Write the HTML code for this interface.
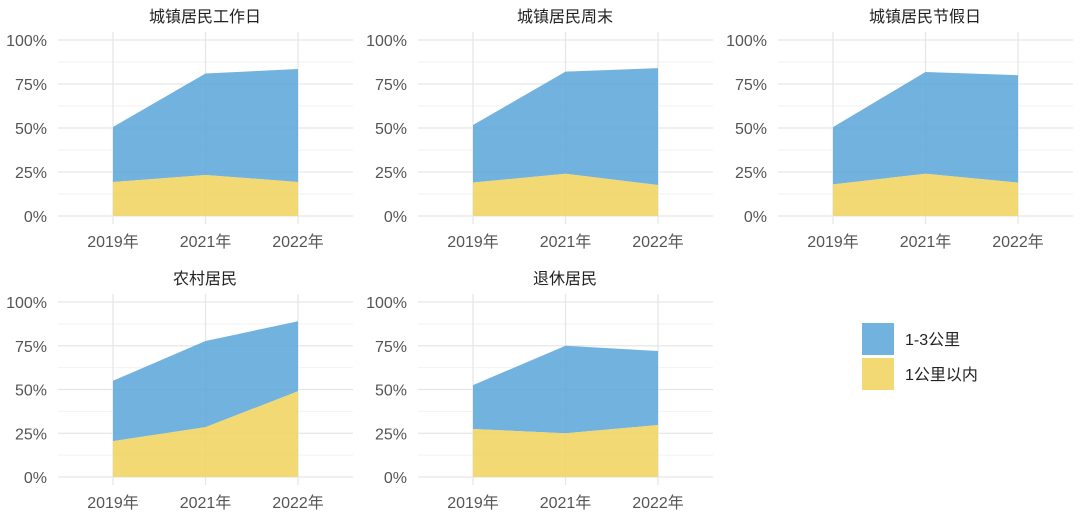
<!DOCTYPE html>
<html><head><meta charset="utf-8"><style>
body{margin:0;background:#fff;width:1080px;height:515px;overflow:hidden}
svg text{font-family:"Liberation Sans","Noto Sans CJK SC",sans-serif}
</style></head><body>
<svg id="c" width="1080" height="515"></svg>
<script>
const titles=["城镇居民工作日","城镇居民周末","城镇居民节假日","农村居民","退休居民"];
const years=["2019年","2021年","2022年"];
const within1=[[19.3,23.3,19.3],[19,24,17.6],[18,24,19],[20.5,28.5,49],[27.4,25,29.7]];
const km1to3=[[31.3,57.7,64.2],[32.7,58,66.4],[32.5,57.8,61],[34.5,49.2,40],[25.1,50,42.3]];
const ticks=[0,25,50,75,100];
const NS="http://www.w3.org/2000/svg";
const svg=document.getElementById('c');
function mk(t,a,p){const e=document.createElementNS(NS,t);for(const k in a)e.setAttribute(k,a[k]);(p||svg).appendChild(e);return e;}
const panels=[[0,0],[360,0],[720,0],[0,262],[360,262]];
panels.forEach((o,i)=>{
 const g=mk('g',{transform:`translate(${o[0]},${o[1]})`});
 
 
 const x0=58,x1=353,top=40,bot=i<3?216:215;
 const xs=j=>113+j*92.5;
 const ys=v=>bot-(bot-top)*v/100;
 for(let v=12.5;v<100;v+=25){const l=mk('line',{x1:x0,x2:x1,y1:ys(v),y2:ys(v),stroke:'#f2f2f2','stroke-width':1},g);}
 ticks.forEach(v=>{const l=mk('line',{x1:x0,x2:x1,y1:ys(v),y2:ys(v),stroke:'#e6e6e6','stroke-width':1.3},g);
  
  const t=mk('text',{x:47,y:ys(v)+6,'text-anchor':'end','font-size':16,fill:'#555'},g);t.textContent=v+'%';
  });
 years.forEach((y,j)=>{mk('line',{x1:xs(j),x2:xs(j),y1:top-8,y2:bot+8,stroke:'#e6e6e6','stroke-width':1.3},g);
  const t=mk('text',{x:xs(j),y:bot+31,'text-anchor':'middle','font-size':16,fill:'#555'},g);t.textContent=y;
  });
 const a=within1[i],b=km1to3[i];
 let p='M'+xs(0)+','+ys(0);a.forEach((v,j)=>p+=' L'+xs(j)+','+ys(v));p+=' L'+xs(2)+','+ys(0)+'Z';
 let q='';a.forEach((v,j)=>q+=(j?' L':'M')+xs(j)+','+ys(v+b[j]));for(let j=2;j>=0;j--)q+=' L'+xs(j)+','+ys(a[j]);q+='Z';
 const pb=mk('path',{d:q,fill:'#5fa7da','fill-opacity':0.88},g);
 
 const py=mk('path',{d:p,fill:'#f0d460','fill-opacity':0.88},g);
 
 const t=mk('text',{x:205,y:i<3?22:22,'text-anchor':'middle','font-size':16,fill:'#222'},g);t.textContent=titles[i];
 
});
const lg=mk('g',{});

[['1-3公里','#5fa7da',323],['1公里以内','#f0d460',358]].forEach(e=>{
 const r=mk('rect',{x:862,y:e[2],width:32,height:32,fill:e[1],'fill-opacity':0.88},lg);
 
 const t=mk('text',{x:905,y:e[2]+22,'font-size':16,fill:'#222'},lg);t.textContent=e[0];
 
});
</script>
</body></html>
